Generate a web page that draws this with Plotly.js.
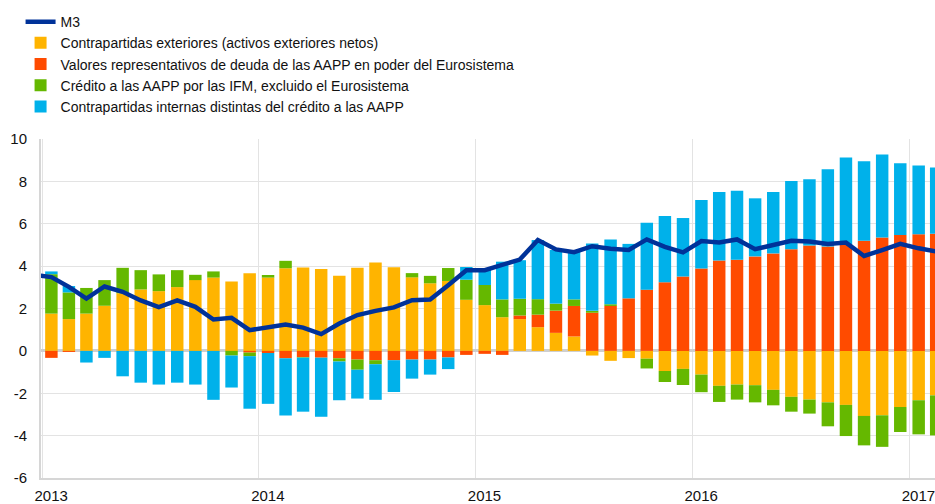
<!DOCTYPE html>
<html>
<head>
<meta charset="utf-8">
<script src="https://cdn.plot.ly/plotly-3.0.1.min.js"></script>
<style>
  html, body { margin: 0; padding: 0; background: #ffffff; }
  #chart { width: 935px; height: 504px; }
</style>
</head>
<body>
<div id="chart"></div>
<script>
// Months for the stacked bars (Jan 2013 - Feb 2017)
var months = [
  '2013-01','2013-02','2013-03','2013-04','2013-05','2013-06','2013-07','2013-08','2013-09','2013-10','2013-11','2013-12',
  '2014-01','2014-02','2014-03','2014-04','2014-05','2014-06','2014-07','2014-08','2014-09','2014-10','2014-11','2014-12',
  '2015-01','2015-02','2015-03','2015-04','2015-05','2015-06','2015-07','2015-08','2015-09','2015-10','2015-11','2015-12',
  '2016-01','2016-02','2016-03','2016-04','2016-05','2016-06','2016-07','2016-08','2016-09','2016-10','2016-11','2016-12',
  '2017-01','2017-02'
];
// Months for the M3 line (starts Dec 2012)
var m3Months = ['2012-12'].concat(months);

// Contrapartidas exteriores (activos exteriores netos)
var exteriores = [
  1.76, 1.50, 1.76, 2.13, 2.72, 2.90, 2.82, 3.01, 3.34, 3.46, 3.27, 3.66,
  3.46, 3.90, 3.93, 3.87, 3.54, 3.92, 4.17, 3.95, 3.47, 3.19, 3.30, 2.41,
  2.16, 1.59, 1.50, 1.12, 0.85, 0.68, -0.22, -0.47, -0.34, -0.37, -0.95, -0.85,
  -1.12, -1.65, -1.59, -1.62, -1.84, -2.17, -2.30, -2.43, -2.55, -3.07, -3.04, -2.65,
  -2.33, -2.10
];
// Valores representativos de deuda de las AAPP en poder del Eurosistema
var valores = [
  -0.33, -0.05, 0, 0, 0, 0, 0, 0, 0, 0, 0, -0.08,
  -0.10, -0.35, -0.29, -0.32, -0.35, -0.41, -0.44, -0.44, -0.41, -0.41, -0.31, -0.19,
  -0.14, -0.19, 0.17, 0.59, 1.05, 1.44, 1.80, 2.12, 2.48, 2.89, 3.24, 3.51,
  3.89, 4.27, 4.30, 4.46, 4.60, 4.80, 4.97, 4.93, 5.03, 5.20, 5.35, 5.47,
  5.50, 5.53
];
// Crédito a las AAPP por las IFM, excluido el Eurosistema
var credito = [
  1.86, 1.26, 1.21, 1.21, 1.20, 0.91, 0.79, 0.80, 0.25, 0.29, -0.22, -0.17,
  0.12, 0.35, -0.03, 0, -0.15, -0.48, -0.19, 0, 0.20, 0.35, 0.61, 0.95,
  0.95, 0.84, 0.79, 0.73, 0.33, 0.31, 0.09, 0.08, 0, -0.46, -0.52, -0.76,
  -0.83, -0.76, -0.71, -0.81, -0.73, -0.70, -0.66, -1.13, -1.47, -1.39, -1.49, -1.18,
  -1.61, -1.89
];
// Contrapartidas internas distintas del crédito a las AAPP
var internas = [
  0.13, 0.30, -0.55, -0.33, -1.20, -1.50, -1.59, -1.50, -1.59, -2.31, -1.51, -2.48,
  -2.40, -2.70, -2.55, -2.79, -1.83, -1.36, -1.68, -1.50, -0.90, -0.71, -0.55, 0.60,
  0.79, 1.78, 1.82, 2.79, 2.53, 2.25, 3.18, 3.06, 2.57, 3.16, 3.13, 2.76,
  3.23, 3.23, 3.26, 2.74, 2.90, 3.22, 3.13, 3.64, 4.10, 3.75, 3.92, 3.39,
  3.25, 3.12
];
// M3 (Dec 2012 - Feb 2017)
var m3 = [
  3.60,
  3.48, 3.02, 2.47, 3.04, 2.79, 2.38, 2.07, 2.38, 2.08, 1.48, 1.56, 0.98,
  1.09, 1.24, 1.10, 0.79, 1.29, 1.69, 1.89, 2.05, 2.39, 2.42, 3.10, 3.81,
  3.81, 4.06, 4.31, 5.23, 4.79, 4.66, 4.94, 4.82, 4.76, 5.26, 4.91, 4.65,
  5.18, 5.12, 5.26, 4.80, 5.01, 5.20, 5.16, 5.05, 5.11, 4.48, 4.76, 5.05,
  4.84, 4.69
];

var names = [
  'M3',
  'Contrapartidas exteriores (activos exteriores netos)',
  'Valores representativos de deuda de las AAPP en poder del Eurosistema',
  'Crédito a las AAPP por las IFM, excluido el Eurosistema',
  'Contrapartidas internas distintas del crédito a las AAPP'
];
var yearTicks = ['2013-01-01','2014-01-01','2015-01-01','2016-01-01','2017-01-01'];
var yearLabels = ['2013','2014','2015','2016','2017'];
var yTicks = [-6, -4, -2, 0, 2, 4, 6, 8, 10];
var yLabels = ['-6', '-4', '-2', '0', '2', '4', '6', '8', '10'];

var colors = ['#003299', '#FFB400', '#FF4B00', '#65B800', '#00B1EA'];
var barWidth = 21 * 86400000;

function barTrace(y, idx) {
  return {
    type: 'bar', x: months, y: y, name: names[idx],
    xperiod: 'M1', xperiodalignment: 'middle',
    width: barWidth,
    marker: { color: colors[idx], line: { width: 0 } },
    legendrank: idx + 1, hoverinfo: 'skip'
  };
}

var data = [
  barTrace(exteriores, 1),
  barTrace(valores, 2),
  barTrace(credito, 3),
  barTrace(internas, 4),
  {
    type: 'scatter', mode: 'lines', x: m3Months, y: m3, name: names[0],
    xperiod: 'M1', xperiodalignment: 'middle',
    line: { color: colors[0], width: 4.5 },
    legendrank: 1, hoverinfo: 'skip'
  }
];

var font = 'Arial, "Liberation Sans", sans-serif';
var layout = {
  width: 935, height: 504,
  margin: { l: 41, r: 0, t: 139, b: 26, autoexpand: false },
  paper_bgcolor: '#ffffff', plot_bgcolor: '#ffffff',
  barmode: 'relative',
  showlegend: true,
  font: { family: font, size: 15, color: '#111111' },
  legend: {
    xref: 'container', yref: 'container',
    x: 0.022, y: 0.988, xanchor: 'left', yanchor: 'top',
    traceorder: 'normal',
    font: { family: font, size: 14, color: '#111111' },
    bgcolor: 'rgba(0,0,0,0)', itemwidth: 30, tracegroupgap: 0
  },
  xaxis: {
    type: 'date',
    range: ['2012-12-30', '2017-02-13'],
    tickvals: yearTicks, ticktext: yearLabels,
    ticks: '', ticklabelshift: 9, ticklabelstandoff: 3,
    ticklabeloverflow: 'allow',
    showgrid: true, gridcolor: '#e3e3e3', gridwidth: 1,
    showline: true, linecolor: '#d6d6d6', linewidth: 2,
    zeroline: false,
    tickfont: { family: font, size: 15, color: '#111111' }
  },
  yaxis: {
    range: [-6, 10],
    tickmode: 'array', tickvals: yTicks, ticktext: yLabels,
    ticks: '', ticklabelstandoff: 9,
    showgrid: true, gridcolor: '#e3e3e3', gridwidth: 1,
    zeroline: true, zerolinecolor: '#cfcfcf', zerolinewidth: 3,
    showline: true, linecolor: '#d6d6d6', linewidth: 2,
    tickfont: { family: font, size: 15, color: '#111111' }
  }
};

Plotly.newPlot('chart', data, layout, { displayModeBar: false, staticPlot: true });
</script>
</body>
</html>
